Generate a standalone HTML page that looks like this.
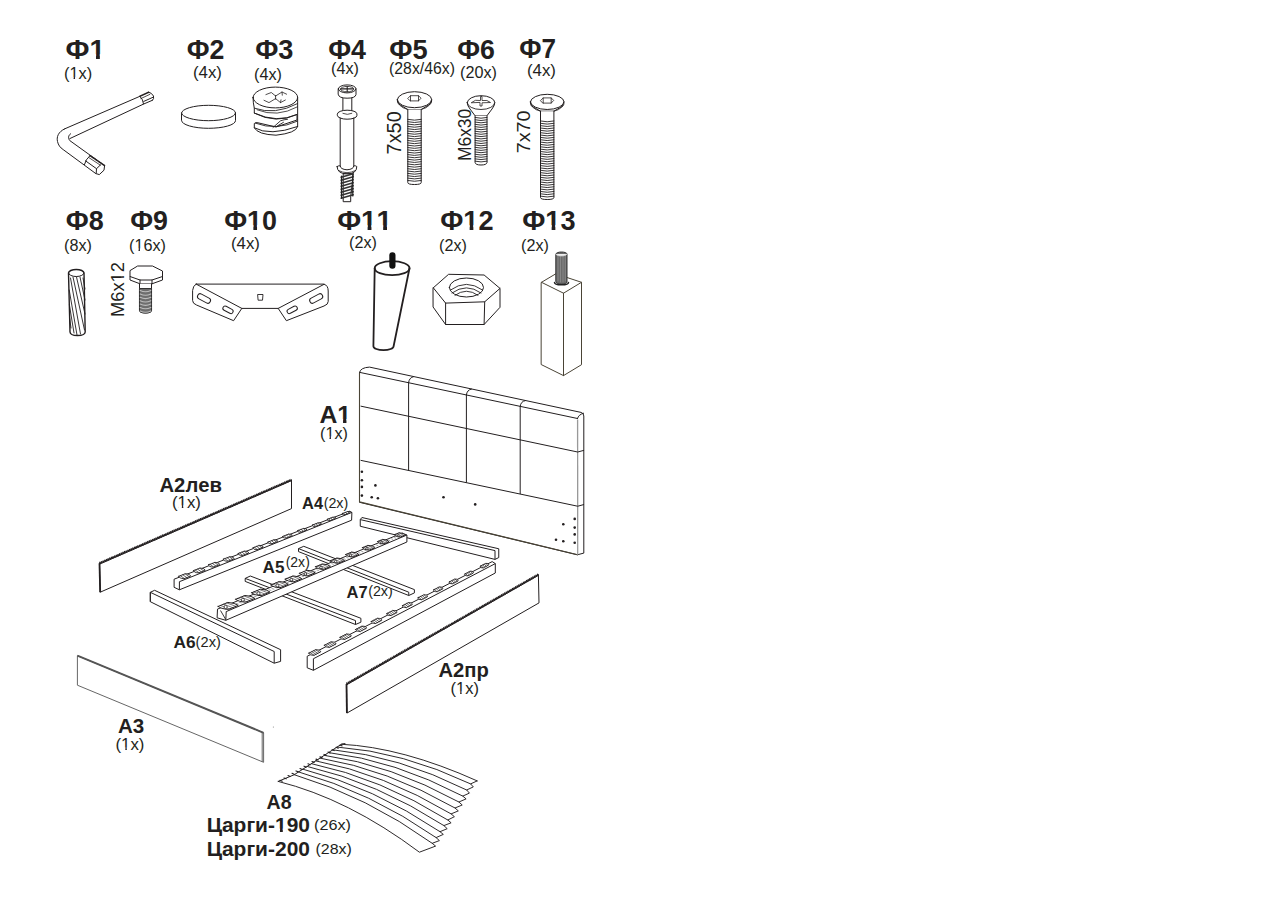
<!DOCTYPE html>
<html><head><meta charset="utf-8"><title>Комплектация</title>
<style>html,body{margin:0;padding:0;background:#fff;width:1280px;height:900px;overflow:hidden}
svg{display:block} text{font-family:"Liberation Sans",sans-serif;fill:#231f20;font-kerning:none}</style></head>
<body><svg width="1280" height="900" viewBox="0 0 1280 900">
<g><g transform="translate(65.46 58.86) scale(0.989 1)"><text font-size="28.4" font-weight="bold">Ф1</text><rect x="25.06" y="-4.70" width="5.81" height="6.20" fill="#fff"/><rect x="34.77" y="-4.70" width="5.45" height="6.20" fill="#fff"/></g><g transform="translate(186.70 58.86) scale(0.942 1)"><text font-size="28.4" font-weight="bold">Ф2</text></g><g transform="translate(255.19 58.72) scale(0.956 1)"><text font-size="28.4" font-weight="bold">Ф3</text></g><g transform="translate(328.20 58.86) scale(0.944 1)"><text font-size="28.4" font-weight="bold">Ф4</text></g><g transform="translate(389.18 58.72) scale(0.961 1)"><text font-size="28.4" font-weight="bold">Ф5</text></g><g transform="translate(457.20 58.72) scale(0.942 1)"><text font-size="28.4" font-weight="bold">Ф6</text></g><g transform="translate(519.22 57.86) scale(0.920 1)"><text font-size="28.4" font-weight="bold">Ф7</text></g><g transform="translate(65.69 229.72) scale(0.948 1)"><text font-size="28.4" font-weight="bold">Ф8</text></g><g transform="translate(130.20 229.72) scale(0.942 1)"><text font-size="28.4" font-weight="bold">Ф9</text></g><g transform="translate(224.19 229.72) scale(0.945 1)"><text font-size="28.4" font-weight="bold">Ф10</text><rect x="25.06" y="-4.70" width="5.81" height="6.20" fill="#fff"/><rect x="34.77" y="-4.70" width="5.45" height="6.20" fill="#fff"/></g><g transform="translate(337.16 229.86) scale(0.986 1)"><text font-size="28.4" font-weight="bold">Ф11</text><rect x="25.06" y="-4.70" width="5.81" height="6.20" fill="#fff"/><rect x="34.77" y="-4.70" width="5.45" height="6.20" fill="#fff"/><rect x="40.85" y="-4.70" width="5.81" height="6.20" fill="#fff"/><rect x="50.56" y="-4.70" width="5.45" height="6.20" fill="#fff"/></g><g transform="translate(440.19 229.86) scale(0.954 1)"><text font-size="28.4" font-weight="bold">Ф12</text><rect x="25.06" y="-4.70" width="5.81" height="6.20" fill="#fff"/><rect x="34.77" y="-4.70" width="5.45" height="6.20" fill="#fff"/></g><g transform="translate(522.19 229.72) scale(0.954 1)"><text font-size="28.4" font-weight="bold">Ф13</text><rect x="25.06" y="-4.70" width="5.81" height="6.20" fill="#fff"/><rect x="34.77" y="-4.70" width="5.45" height="6.20" fill="#fff"/></g><g transform="translate(64.02 79.34) scale(1.024 1)"><text font-size="16.0" font-weight="normal">(1x)</text><rect x="6.00" y="-2.21" width="3.35" height="3.71" fill="#fff"/><rect x="10.77" y="-2.21" width="3.23" height="3.71" fill="#fff"/></g><g transform="translate(192.99 77.64) scale(1.051 1)"><text font-size="16.0" font-weight="normal">(4x)</text></g><g transform="translate(254.03 79.64) scale(1.012 1)"><text font-size="16.0" font-weight="normal">(4x)</text></g><g transform="translate(331.03 73.64) scale(1.012 1)"><text font-size="16.0" font-weight="normal">(4x)</text></g><g transform="translate(389.05 73.64) scale(0.988 1)"><text font-size="16.0" font-weight="normal">(28x/46x)</text></g><g transform="translate(460.03 77.64) scale(1.013 1)"><text font-size="16.0" font-weight="normal">(20x)</text></g><g transform="translate(526.99 75.64) scale(1.051 1)"><text font-size="16.0" font-weight="normal">(4x)</text></g><g transform="translate(64.03 250.64) scale(1.012 1)"><text font-size="16.0" font-weight="normal">(8x)</text></g><g transform="translate(129.03 250.64) scale(1.013 1)"><text font-size="16.0" font-weight="normal">(16x)</text><rect x="6.00" y="-2.21" width="3.35" height="3.71" fill="#fff"/><rect x="10.77" y="-2.21" width="3.23" height="3.71" fill="#fff"/></g><g transform="translate(230.99 248.64) scale(1.051 1)"><text font-size="16.0" font-weight="normal">(4x)</text></g><g transform="translate(349.03 247.64) scale(1.012 1)"><text font-size="16.0" font-weight="normal">(2x)</text></g><g transform="translate(439.03 250.64) scale(1.012 1)"><text font-size="16.0" font-weight="normal">(2x)</text></g><g transform="translate(521.03 250.64) scale(1.012 1)"><text font-size="16.0" font-weight="normal">(2x)</text></g><g transform="translate(320.03 438.64) scale(1.012 1)"><text font-size="16.0" font-weight="normal">(1x)</text><rect x="6.00" y="-2.21" width="3.35" height="3.71" fill="#fff"/><rect x="10.77" y="-2.21" width="3.23" height="3.71" fill="#fff"/></g><g transform="translate(171.99 507.64) scale(1.051 1)"><text font-size="16.0" font-weight="normal">(1x)</text><rect x="6.00" y="-2.21" width="3.35" height="3.71" fill="#fff"/><rect x="10.77" y="-2.21" width="3.23" height="3.71" fill="#fff"/></g><g transform="translate(450.51 693.64) scale(1.032 1)"><text font-size="16.0" font-weight="normal">(1x)</text><rect x="6.00" y="-2.21" width="3.35" height="3.71" fill="#fff"/><rect x="10.77" y="-2.21" width="3.23" height="3.71" fill="#fff"/></g><g transform="translate(115.49 749.64) scale(1.051 1)"><text font-size="16.0" font-weight="normal">(1x)</text><rect x="6.00" y="-2.21" width="3.35" height="3.71" fill="#fff"/><rect x="10.77" y="-2.21" width="3.23" height="3.71" fill="#fff"/></g><g transform="translate(319.38 423.00) scale(1.032 1)"><text font-size="24.0" font-weight="bold">A1</text><rect x="18.02" y="-3.97" width="4.91" height="5.47" fill="#fff"/><rect x="26.23" y="-3.97" width="4.61" height="5.47" fill="#fff"/></g><g transform="translate(159.49 491.79) scale(0.965 1)"><text font-size="21.0" font-weight="bold">A2лев</text></g><g transform="translate(438.49 676.59) scale(0.962 1)"><text font-size="21.0" font-weight="bold">A2пр</text></g><g transform="translate(117.99 732.79) scale(0.980 1)"><text font-size="21.0" font-weight="bold">A3</text></g><g transform="translate(266.51 809.29) scale(0.933 1)"><text font-size="21.0" font-weight="bold">A8</text></g><g transform="translate(302.09 509.00) scale(0.976 1)"><text font-size="16.8" font-weight="bold">A4</text></g><g transform="translate(262.57 573.33) scale(1.020 1)"><text font-size="16.8" font-weight="bold">A5</text></g><g transform="translate(346.59 598.00) scale(0.984 1)"><text font-size="16.8" font-weight="bold">A7</text></g><g transform="translate(173.57 647.83) scale(1.029 1)"><text font-size="16.8" font-weight="bold">A6</text></g><g transform="translate(323.64 508.10) scale(1.038 1)"><text font-size="13.8" font-weight="normal">(2x)</text></g><g transform="translate(285.66 567.10) scale(1.016 1)"><text font-size="13.8" font-weight="normal">(2x)</text></g><g transform="translate(368.14 596.10) scale(1.038 1)"><text font-size="13.8" font-weight="normal">(2x)</text></g><g transform="translate(195.62 647.10) scale(1.061 1)"><text font-size="13.8" font-weight="normal">(2x)</text></g><g transform="translate(206.64 831.84) scale(1.059 1)"><text font-size="19.8" font-weight="bold">Царги-190</text><rect x="65.15" y="-3.28" width="4.05" height="4.78" fill="#fff"/><rect x="71.92" y="-3.28" width="3.80" height="4.78" fill="#fff"/></g><g transform="translate(206.64 855.84) scale(1.059 1)"><text font-size="19.8" font-weight="bold">Царги-200</text></g><g transform="translate(314.03 829.85) scale(1.080 1)"><text font-size="15.0" font-weight="normal">(26x)</text></g><g transform="translate(315.54 853.85) scale(1.065 1)"><text font-size="15.0" font-weight="normal">(28x)</text></g><g transform="translate(400.61 154.39) rotate(-90) scale(1.020 1)"><text font-size="19.5">7x50</text></g><g transform="translate(470.52 161.10) rotate(-90) scale(0.970 1)"><text font-size="18.0">M6x30</text></g><g transform="translate(529.81 153.29) rotate(-90) scale(1.040 1)"><text font-size="19.0">7x70</text></g><g transform="translate(123.82 316.96) rotate(-90) scale(1.000 1)"><text font-size="18.3">M6x12</text><rect x="35.34" y="-2.53" width="3.83" height="4.03" fill="#fff"/><rect x="40.79" y="-2.53" width="3.69" height="4.03" fill="#fff"/></g></g>
<g fill="none"><path d="M359.5,501.90 L359.5,372.6 Q360.5,367.6 369.5,367.1 L581,412.4 Q583.8,413.2 583.8,416 L583.8,553.1 L577.7,554.7 Z" fill="#fff" stroke="#231f20" stroke-width="1.0" stroke-linejoin="round" stroke-linecap="round" />
<path d="M577.7,554.7 L359.5,501.90 L359.5,372.6" fill="none" stroke="#4a4436" stroke-width="1.1" stroke-linejoin="round" stroke-linecap="round" />
<path d="M359.8,372.4 L577.5,418.50" fill="none" stroke="#231f20" stroke-width="1" stroke-linejoin="round" stroke-linecap="round" />
<line x1="577.60" y1="419.53" x2="577.70" y2="554.70" stroke="#999" stroke-width="1.3" />
<path d="M577.5,418.50 Q578.5,414.5 583.6,413.2" fill="none" stroke="#231f20" stroke-width="1" stroke-linejoin="round" stroke-linecap="round" />
<path d="M408.6,382.58 Q409.1,377.58 413.6,376.60" fill="none" stroke="#231f20" stroke-width="1" stroke-linejoin="round" stroke-linecap="round" />
<path d="M466.4,394.87 Q466.9,389.87 471.4,389.06" fill="none" stroke="#231f20" stroke-width="1" stroke-linejoin="round" stroke-linecap="round" />
<path d="M520.2,406.32 Q520.7,401.32 525.2,400.65" fill="none" stroke="#231f20" stroke-width="1" stroke-linejoin="round" stroke-linecap="round" />
<path d="M361,406.20 L577.7,452.03 L583.6,450.43" fill="none" stroke="#231f20" stroke-width="1" stroke-linejoin="round" stroke-linecap="round" />
<path d="M361,460.40 L577.7,506.23 L583.6,504.63" fill="none" stroke="#231f20" stroke-width="1" stroke-linejoin="round" stroke-linecap="round" />
<line x1="408.60" y1="382.58" x2="408.60" y2="470.47" stroke="#231f20" stroke-width="1" />
<line x1="466.40" y1="394.87" x2="466.40" y2="482.69" stroke="#231f20" stroke-width="1" />
<line x1="520.20" y1="406.32" x2="520.20" y2="494.07" stroke="#231f20" stroke-width="1" />
<circle cx="361.9" cy="471.7" r="1.3" fill="#231f20"/>
<circle cx="361.9" cy="480.3" r="1.3" fill="#231f20"/>
<circle cx="361.9" cy="486.9" r="1.3" fill="#231f20"/>
<circle cx="361.9" cy="495.6" r="1.3" fill="#231f20"/>
<circle cx="375.4" cy="485.4" r="1.3" fill="#231f20"/>
<circle cx="371.7" cy="497.3" r="1.3" fill="#231f20"/>
<circle cx="377.9" cy="498.3" r="1.3" fill="#231f20"/>
<circle cx="443.5" cy="497.3" r="1.3" fill="#231f20"/>
<circle cx="475.2" cy="504.4" r="1.3" fill="#231f20"/>
<circle cx="563.3" cy="524.3" r="1.3" fill="#231f20"/>
<circle cx="574.7" cy="518.9" r="1.3" fill="#231f20"/>
<circle cx="574.7" cy="527.6" r="1.3" fill="#231f20"/>
<circle cx="574.7" cy="534.4" r="1.3" fill="#231f20"/>
<circle cx="556" cy="539.7" r="1.3" fill="#231f20"/>
<circle cx="563.3" cy="541.3" r="1.3" fill="#231f20"/>
<circle cx="574.7" cy="542.7" r="1.3" fill="#231f20"/>
<polygon points="361.90,517.50 498.75,548.75 498.75,557.55 495.00,559.40 360.25,526.25 360.25,519.60" fill="#fff" stroke="#231f20" stroke-width="1" stroke-linejoin="round" />
<line x1="360.25" y1="519.60" x2="495.00" y2="550.60" stroke="#231f20" stroke-width="1" />
<line x1="495.00" y1="550.60" x2="495.00" y2="559.40" stroke="#231f20" stroke-width="1" />
<polygon points="303.75,546.30 414.40,589.60 414.40,592.90 408.75,595.50 298.50,551.60 298.50,548.60" fill="#fff" stroke="#231f20" stroke-width="1" stroke-linejoin="round" />
<line x1="298.50" y1="548.60" x2="408.75" y2="592.20" stroke="#231f20" stroke-width="1" />
<line x1="408.75" y1="592.20" x2="408.75" y2="595.50" stroke="#231f20" stroke-width="1" />
<polygon points="250.30,576.00 360.90,618.30 360.90,622.20 355.50,624.50 245.20,581.40 245.20,578.40" fill="#fff" stroke="#231f20" stroke-width="1" stroke-linejoin="round" />
<line x1="245.20" y1="578.40" x2="355.50" y2="620.60" stroke="#231f20" stroke-width="1" />
<line x1="355.50" y1="620.60" x2="355.50" y2="624.50" stroke="#231f20" stroke-width="1" />
<polygon points="174.10,579.20 349.70,511.25 351.90,512.40 351.60,520.20 179.40,589.80 174.10,587.30" fill="#fff" stroke="#231f20" stroke-width="1" stroke-linejoin="round" />
<line x1="179.40" y1="581.70" x2="351.90" y2="512.40" stroke="#231f20" stroke-width="1" />
<line x1="179.40" y1="581.70" x2="179.40" y2="589.80" stroke="#231f20" stroke-width="1" />
<path d="M178.79,576.26 L185.51,573.66 Q190.50,573.98 190.73,576.13 L184.01,578.73 Q179.03,578.42 178.79,576.26 Z" fill="#fff" stroke="#231f20" stroke-width="0.9" stroke-linejoin="round" stroke-linecap="round" />
<path d="M180.33,575.67 L184.43,578.56 M182.71,574.75 L186.81,577.64 M185.09,573.83 L189.19,576.72 " fill="none" stroke="#231f20" stroke-width="0.7" stroke-linejoin="round" stroke-linecap="round" />
<path d="M193.66,570.56 L200.26,568.01 Q205.12,568.26 205.22,570.36 L198.62,572.91 Q193.76,572.66 193.66,570.56 Z" fill="#fff" stroke="#231f20" stroke-width="0.9" stroke-linejoin="round" stroke-linecap="round" />
<path d="M195.17,569.98 L199.01,572.76 M197.52,569.07 L201.36,571.85 M199.87,568.16 L203.71,570.94 " fill="none" stroke="#231f20" stroke-width="0.7" stroke-linejoin="round" stroke-linecap="round" />
<path d="M208.52,564.87 L215.02,562.35 Q219.74,562.55 219.71,564.59 L213.22,567.10 Q208.49,566.90 208.52,564.87 Z" fill="#fff" stroke="#231f20" stroke-width="0.9" stroke-linejoin="round" stroke-linecap="round" />
<path d="M210.01,564.29 L213.58,566.96 M212.33,563.39 L215.91,566.06 M214.65,562.49 L218.23,565.16 " fill="none" stroke="#231f20" stroke-width="0.7" stroke-linejoin="round" stroke-linecap="round" />
<path d="M223.39,559.17 L229.77,556.70 Q234.36,556.84 234.20,558.82 L227.83,561.29 Q223.23,561.15 223.39,559.17 Z" fill="#fff" stroke="#231f20" stroke-width="0.9" stroke-linejoin="round" stroke-linecap="round" />
<path d="M224.85,558.60 L228.16,561.16 M227.14,557.72 L230.46,560.27 M229.43,556.83 L232.75,559.38 " fill="none" stroke="#231f20" stroke-width="0.7" stroke-linejoin="round" stroke-linecap="round" />
<path d="M238.26,553.47 L244.52,551.04 Q248.99,551.13 248.70,553.05 L242.43,555.48 Q237.96,555.39 238.26,553.47 Z" fill="#fff" stroke="#231f20" stroke-width="0.9" stroke-linejoin="round" stroke-linecap="round" />
<path d="M239.68,552.92 L242.74,555.36 M241.95,552.04 L245.00,554.48 M244.21,551.16 L247.27,553.60 " fill="none" stroke="#231f20" stroke-width="0.7" stroke-linejoin="round" stroke-linecap="round" />
<path d="M253.12,547.77 L259.28,545.39 Q263.61,545.42 263.19,547.28 L257.03,549.67 Q252.70,549.64 253.12,547.77 Z" fill="#fff" stroke="#231f20" stroke-width="0.9" stroke-linejoin="round" stroke-linecap="round" />
<path d="M254.52,547.23 L257.31,549.56 M256.76,546.36 L259.55,548.69 M259.00,545.50 L261.79,547.82 " fill="none" stroke="#231f20" stroke-width="0.7" stroke-linejoin="round" stroke-linecap="round" />
<path d="M267.99,542.07 L274.03,539.73 Q278.23,539.70 277.68,541.51 L271.64,543.85 Q267.43,543.88 267.99,542.07 Z" fill="#fff" stroke="#231f20" stroke-width="0.9" stroke-linejoin="round" stroke-linecap="round" />
<path d="M269.36,541.54 L271.89,543.76 M271.57,540.69 L274.10,542.90 M273.78,539.83 L276.31,542.05 " fill="none" stroke="#231f20" stroke-width="0.7" stroke-linejoin="round" stroke-linecap="round" />
<path d="M282.85,536.37 L288.78,534.08 Q292.86,533.99 292.17,535.75 L286.24,538.04 Q282.17,538.13 282.85,536.37 Z" fill="#fff" stroke="#231f20" stroke-width="0.9" stroke-linejoin="round" stroke-linecap="round" />
<path d="M284.19,535.85 L286.47,537.95 M286.38,535.01 L288.65,537.11 M288.56,534.16 L290.83,536.27 " fill="none" stroke="#231f20" stroke-width="0.7" stroke-linejoin="round" stroke-linecap="round" />
<path d="M297.72,530.67 L303.54,528.42 Q307.48,528.28 306.66,529.98 L300.85,532.23 Q296.90,532.37 297.72,530.67 Z" fill="#fff" stroke="#231f20" stroke-width="0.9" stroke-linejoin="round" stroke-linecap="round" />
<path d="M299.03,530.17 L301.04,532.15 M301.19,529.33 L303.20,531.32 M303.34,528.50 L305.35,530.49 " fill="none" stroke="#231f20" stroke-width="0.7" stroke-linejoin="round" stroke-linecap="round" />
<path d="M312.58,524.98 L318.29,522.77 Q322.10,522.57 321.16,524.21 L315.45,526.42 Q311.64,526.62 312.58,524.98 Z" fill="#fff" stroke="#231f20" stroke-width="0.9" stroke-linejoin="round" stroke-linecap="round" />
<path d="M313.87,524.48 L315.62,526.35 M316.00,523.65 L317.74,525.53 M318.12,522.83 L319.87,524.71 " fill="none" stroke="#231f20" stroke-width="0.7" stroke-linejoin="round" stroke-linecap="round" />
<path d="M327.45,519.28 L333.04,517.11 Q336.72,516.85 335.65,518.44 L330.05,520.60 Q326.37,520.86 327.45,519.28 Z" fill="#fff" stroke="#231f20" stroke-width="0.9" stroke-linejoin="round" stroke-linecap="round" />
<path d="M328.71,518.79 L330.19,520.55 M330.80,517.98 L332.29,519.74 M332.90,517.17 L334.39,518.93 " fill="none" stroke="#231f20" stroke-width="0.7" stroke-linejoin="round" stroke-linecap="round" />
<path d="M342.31,513.58 L347.80,511.46 Q351.35,511.14 350.14,512.67 L344.66,514.79 Q341.11,515.11 342.31,513.58 Z" fill="#fff" stroke="#231f20" stroke-width="0.9" stroke-linejoin="round" stroke-linecap="round" />
<path d="M343.54,513.10 L344.77,514.75 M345.61,512.30 L346.84,513.95 M347.68,511.50 L348.91,513.15 " fill="none" stroke="#231f20" stroke-width="0.7" stroke-linejoin="round" stroke-linecap="round" />
<polygon points="217.50,609.10 402.20,533.10 406.90,535.00 406.90,542.00 225.80,620.30 217.10,617.80" fill="#fff" stroke="#231f20" stroke-width="1" stroke-linejoin="round" />
<line x1="226.20" y1="611.60" x2="406.90" y2="535.00" stroke="#231f20" stroke-width="1" />
<line x1="226.20" y1="611.60" x2="225.80" y2="620.30" stroke="#231f20" stroke-width="1" />
<line x1="220.50" y1="610.50" x2="225.80" y2="619.60" stroke="#231f20" stroke-width="0.9" />
<path d="M224.21,608.45 L226.37,609.07 M227.20,607.21 L229.34,607.83 M230.19,605.97 L232.31,606.58 M233.17,604.72 L235.28,605.34 M236.16,603.48 L238.25,604.09 M239.15,602.24 L241.22,602.85 M242.14,601.00 L244.19,601.60 M245.13,599.76 L247.17,600.36 M248.11,598.51 L250.14,599.12 M251.10,597.27 L253.11,597.87 M254.09,596.03 L256.08,596.63 M257.08,594.79 L259.05,595.38 M260.06,593.54 L262.02,594.14 M263.05,592.30 L265.00,592.89 M266.04,591.06 L267.97,591.65 M269.03,589.82 L270.94,590.40 M272.02,588.58 L273.91,589.16 M275.00,587.33 L276.88,587.91 M277.99,586.09 L279.85,586.67 M280.98,584.85 L282.82,585.42 M283.97,583.61 L285.80,584.18 M286.95,582.36 L288.77,582.93 M289.94,581.12 L291.74,581.69 M292.93,579.88 L294.71,580.45 M295.92,578.64 L297.68,579.20 M298.91,577.40 L300.65,577.96 M301.89,576.15 L303.62,576.71 M304.88,574.91 L306.60,575.47 M307.87,573.67 L309.57,574.22 M310.86,572.43 L312.54,572.98 M313.84,571.18 L315.51,571.73 M316.83,569.94 L318.48,570.49 M319.82,568.70 L321.45,569.24 M322.81,567.46 L324.43,568.00 M325.80,566.22 L327.40,566.75 M328.78,564.97 L330.37,565.51 M331.77,563.73 L333.34,564.26 M334.76,562.49 L336.31,563.02 M337.75,561.25 L339.28,561.78 M340.73,560.00 L342.25,560.53 M343.72,558.76 L345.23,559.29 M346.71,557.52 L348.20,558.04 M349.70,556.28 L351.17,556.80 M352.69,555.04 L354.14,555.55 M355.67,553.79 L357.11,554.31 M358.66,552.55 L360.08,553.06 M361.65,551.31 L363.05,551.82 M364.64,550.07 L366.03,550.57 M367.62,548.82 L369.00,549.33 M370.61,547.58 L371.97,548.08 M373.60,546.34 L374.94,546.84 M376.59,545.10 L377.91,545.59 M379.58,543.86 L380.88,544.35 M382.56,542.61 L383.85,543.11 M385.55,541.37 L386.83,541.86 M388.54,540.13 L389.80,540.62 M391.53,538.89 L392.77,539.37 M394.52,537.64 L395.74,538.13 M397.50,536.40 L398.71,536.88 M400.49,535.16 L401.68,535.64 " fill="none" stroke="#666" stroke-width="0.6" stroke-linejoin="round" stroke-linecap="round" />
<path d="M218.12,606.43 L227.83,602.43 Q235.37,602.95 238.20,605.42 L228.49,609.42 Q220.95,608.89 218.12,606.43 Z" fill="#fff" stroke="#231f20" stroke-width="1.0" stroke-linejoin="round" stroke-linecap="round" />
<path d="M220.41,605.48 L229.67,608.93 M223.53,604.20 L232.79,607.65 M226.65,602.92 L235.91,606.36 " fill="none" stroke="#231f20" stroke-width="0.6" stroke-linejoin="round" stroke-linecap="round" />
<circle cx="225.65" cy="606.95" r="1.60" fill="#fff" stroke="#231f20" stroke-width="0.8"/>
<path d="M235.70,599.28 L244.95,595.47 Q252.27,595.96 254.87,598.39 L245.62,602.20 Q238.30,601.71 235.70,599.28 Z" fill="#fff" stroke="#231f20" stroke-width="1.0" stroke-linejoin="round" stroke-linecap="round" />
<path d="M237.87,598.38 L246.68,601.76 M240.88,597.15 L249.69,600.52 M243.89,595.91 L252.69,599.29 " fill="none" stroke="#231f20" stroke-width="0.6" stroke-linejoin="round" stroke-linecap="round" />
<circle cx="242.87" cy="599.82" r="1.54" fill="#fff" stroke="#231f20" stroke-width="0.8"/>
<path d="M251.67,592.78 L260.45,589.17 Q267.56,589.63 269.96,592.03 L261.17,595.64 Q254.06,595.18 251.67,592.78 Z" fill="#fff" stroke="#231f20" stroke-width="1.0" stroke-linejoin="round" stroke-linecap="round" />
<path d="M253.73,591.94 L262.12,595.25 M256.62,590.75 L265.01,594.06 M259.51,589.56 L267.90,592.87 " fill="none" stroke="#231f20" stroke-width="0.6" stroke-linejoin="round" stroke-linecap="round" />
<circle cx="258.49" cy="593.35" r="1.48" fill="#fff" stroke="#231f20" stroke-width="0.8"/>
<path d="M270.96,584.94 L279.29,581.51 Q286.15,581.93 288.30,584.30 L279.97,587.72 Q273.11,587.30 270.96,584.94 Z" fill="#fff" stroke="#231f20" stroke-width="1.0" stroke-linejoin="round" stroke-linecap="round" />
<path d="M272.91,584.14 L280.81,587.38 M275.68,583.00 L283.58,586.24 M278.45,581.85 L286.35,585.10 " fill="none" stroke="#231f20" stroke-width="0.6" stroke-linejoin="round" stroke-linecap="round" />
<circle cx="277.40" cy="585.53" r="1.42" fill="#fff" stroke="#231f20" stroke-width="0.8"/>
<path d="M285.22,579.14 L293.08,575.91 Q299.76,576.30 301.72,578.64 L293.86,581.87 Q287.18,581.48 285.22,579.14 Z" fill="#fff" stroke="#231f20" stroke-width="1.0" stroke-linejoin="round" stroke-linecap="round" />
<path d="M287.04,578.39 L294.57,581.58 M289.70,577.30 L297.23,580.48 M292.36,576.20 L299.89,579.39 " fill="none" stroke="#231f20" stroke-width="0.6" stroke-linejoin="round" stroke-linecap="round" />
<circle cx="291.33" cy="579.76" r="1.36" fill="#fff" stroke="#231f20" stroke-width="0.8"/>
<path d="M299.57,573.30 L306.97,570.26 Q313.46,570.63 315.24,572.93 L307.84,575.98 Q301.35,575.61 299.57,573.30 Z" fill="#fff" stroke="#231f20" stroke-width="1.0" stroke-linejoin="round" stroke-linecap="round" />
<path d="M301.28,572.60 L308.44,575.73 M303.82,571.55 L310.99,574.68 M306.37,570.51 L313.53,573.64 " fill="none" stroke="#231f20" stroke-width="0.6" stroke-linejoin="round" stroke-linecap="round" />
<circle cx="305.36" cy="573.95" r="1.30" fill="#fff" stroke="#231f20" stroke-width="0.8"/>
<path d="M315.54,566.81 L322.47,563.96 Q328.76,564.29 330.33,566.57 L323.40,569.42 Q317.11,569.09 315.54,566.81 Z" fill="#fff" stroke="#231f20" stroke-width="1.0" stroke-linejoin="round" stroke-linecap="round" />
<path d="M317.13,566.15 L323.88,569.22 M319.56,565.16 L326.31,568.23 M321.99,564.16 L328.74,567.23 " fill="none" stroke="#231f20" stroke-width="0.6" stroke-linejoin="round" stroke-linecap="round" />
<circle cx="320.98" cy="567.49" r="1.24" fill="#fff" stroke="#231f20" stroke-width="0.8"/>
<path d="M330.60,560.69 L337.07,558.02 Q343.16,558.33 344.54,560.58 L338.07,563.24 Q331.97,562.93 330.60,560.69 Z" fill="#fff" stroke="#231f20" stroke-width="1.0" stroke-linejoin="round" stroke-linecap="round" />
<path d="M332.08,560.08 L338.44,563.09 M334.39,559.13 L340.75,562.14 M336.70,558.18 L343.06,561.19 " fill="none" stroke="#231f20" stroke-width="0.6" stroke-linejoin="round" stroke-linecap="round" />
<circle cx="335.71" cy="561.39" r="1.18" fill="#fff" stroke="#231f20" stroke-width="0.8"/>
<path d="M345.76,554.52 L351.77,552.05 Q357.67,552.33 358.85,554.54 L352.84,557.02 Q346.94,556.74 345.76,554.52 Z" fill="#fff" stroke="#231f20" stroke-width="1.0" stroke-linejoin="round" stroke-linecap="round" />
<path d="M347.12,553.96 L353.09,556.91 M349.32,553.06 L355.29,556.01 M351.51,552.15 L357.49,555.11 " fill="none" stroke="#231f20" stroke-width="0.6" stroke-linejoin="round" stroke-linecap="round" />
<circle cx="350.54" cy="555.25" r="1.12" fill="#fff" stroke="#231f20" stroke-width="0.8"/>
<path d="M362.53,547.70 L368.08,545.42 Q373.76,545.66 374.73,547.85 L369.18,550.13 Q363.50,549.89 362.53,547.70 Z" fill="#fff" stroke="#231f20" stroke-width="1.0" stroke-linejoin="round" stroke-linecap="round" />
<path d="M363.78,547.19 L369.32,550.07 M365.86,546.33 L371.40,549.22 M367.94,545.47 L373.48,548.36 " fill="none" stroke="#231f20" stroke-width="0.6" stroke-linejoin="round" stroke-linecap="round" />
<circle cx="366.96" cy="548.46" r="1.06" fill="#fff" stroke="#231f20" stroke-width="0.8"/>
<path d="M377.69,541.54 L382.78,539.44 Q388.26,539.66 389.04,541.82 L383.95,543.91 Q378.46,543.69 377.69,541.54 Z" fill="#fff" stroke="#231f20" stroke-width="1.0" stroke-linejoin="round" stroke-linecap="round" />
<path d="M378.82,541.07 L383.97,543.90 M380.79,540.26 L385.94,543.09 M382.75,539.45 L387.90,542.28 " fill="none" stroke="#231f20" stroke-width="0.6" stroke-linejoin="round" stroke-linecap="round" />
<circle cx="381.78" cy="542.32" r="1.00" fill="#fff" stroke="#231f20" stroke-width="0.8"/>
<path d="M394.46,534.71 L399.09,532.81 Q404.36,533.00 404.92,535.12 L400.29,537.02 Q395.02,536.84 394.46,534.71 Z" fill="#fff" stroke="#231f20" stroke-width="1.0" stroke-linejoin="round" stroke-linecap="round" />
<path d="M395.48,534.30 L400.20,537.06 M397.33,533.53 L402.05,536.30 M399.18,532.77 L403.90,535.54 " fill="none" stroke="#231f20" stroke-width="0.6" stroke-linejoin="round" stroke-linecap="round" />
<circle cx="398.20" cy="535.52" r="0.94" fill="#fff" stroke="#231f20" stroke-width="0.8"/>
<polygon points="307.20,656.25 492.20,561.60 495.30,563.60 495.30,573.00 313.40,670.30 307.20,667.80" fill="#fff" stroke="#231f20" stroke-width="1" stroke-linejoin="round" />
<line x1="313.40" y1="658.75" x2="495.30" y2="563.60" stroke="#231f20" stroke-width="1" />
<line x1="313.40" y1="658.75" x2="313.40" y2="670.30" stroke="#231f20" stroke-width="1" />
<path d="M308.87,653.14 L315.55,649.72 Q320.44,649.62 320.78,651.84 L314.10,655.26 Q309.22,655.36 308.87,653.14 Z" fill="#fff" stroke="#231f20" stroke-width="0.9" stroke-linejoin="round" stroke-linecap="round" />
<path d="M309.94,652.59 L314.10,655.26 M311.81,651.63 L315.97,654.30 M313.68,650.68 L317.84,653.34 M315.55,649.72 L319.71,652.39 " fill="none" stroke="#231f20" stroke-width="0.7" stroke-linejoin="round" stroke-linecap="round" />
<path d="M324.48,645.22 L331.02,641.88 Q335.80,641.76 336.03,643.96 L329.49,647.31 Q324.71,647.43 324.48,645.22 Z" fill="#fff" stroke="#231f20" stroke-width="0.9" stroke-linejoin="round" stroke-linecap="round" />
<path d="M325.52,644.69 L329.46,647.32 M327.36,643.75 L331.30,646.38 M329.21,642.81 L333.15,645.43 M331.05,641.86 L334.99,644.49 " fill="none" stroke="#231f20" stroke-width="0.7" stroke-linejoin="round" stroke-linecap="round" />
<path d="M340.08,637.31 L346.49,634.03 Q351.16,633.89 351.28,636.08 L344.87,639.36 Q340.21,639.50 340.08,637.31 Z" fill="#fff" stroke="#231f20" stroke-width="0.9" stroke-linejoin="round" stroke-linecap="round" />
<path d="M341.10,636.79 L344.82,639.39 M342.91,635.86 L346.63,638.46 M344.73,634.93 L348.45,637.53 M346.55,634.00 L350.27,636.60 " fill="none" stroke="#231f20" stroke-width="0.7" stroke-linejoin="round" stroke-linecap="round" />
<path d="M355.69,629.40 L361.96,626.19 Q366.52,626.03 366.53,628.20 L360.25,631.41 Q355.70,631.56 355.69,629.40 Z" fill="#fff" stroke="#231f20" stroke-width="0.9" stroke-linejoin="round" stroke-linecap="round" />
<path d="M356.67,628.89 L360.17,631.45 M358.46,627.98 L361.96,630.53 M360.25,627.06 L363.75,629.62 M362.04,626.15 L365.54,628.70 " fill="none" stroke="#231f20" stroke-width="0.7" stroke-linejoin="round" stroke-linecap="round" />
<path d="M371.29,621.48 L377.43,618.34 Q381.88,618.17 381.78,620.32 L375.64,623.46 Q371.19,623.63 371.29,621.48 Z" fill="#fff" stroke="#231f20" stroke-width="0.9" stroke-linejoin="round" stroke-linecap="round" />
<path d="M372.25,620.99 L375.53,623.51 M374.01,620.09 L377.29,622.61 M375.78,619.19 L379.06,621.71 M377.54,618.29 L380.82,620.81 " fill="none" stroke="#231f20" stroke-width="0.7" stroke-linejoin="round" stroke-linecap="round" />
<path d="M386.89,613.57 L392.90,610.50 Q397.24,610.30 397.03,612.44 L391.02,615.51 Q386.69,615.70 386.89,613.57 Z" fill="#fff" stroke="#231f20" stroke-width="0.9" stroke-linejoin="round" stroke-linecap="round" />
<path d="M387.83,613.09 L390.89,615.58 M389.56,612.20 L392.62,614.69 M391.30,611.32 L394.36,613.80 M393.04,610.43 L396.09,612.91 " fill="none" stroke="#231f20" stroke-width="0.7" stroke-linejoin="round" stroke-linecap="round" />
<path d="M402.50,605.66 L408.37,602.65 Q412.60,602.44 412.28,604.56 L406.40,607.56 Q402.18,607.77 402.50,605.66 Z" fill="#fff" stroke="#231f20" stroke-width="0.9" stroke-linejoin="round" stroke-linecap="round" />
<path d="M403.41,605.19 L406.24,607.64 M405.11,604.32 L407.95,606.77 M406.82,603.44 L409.66,605.89 M408.53,602.57 L411.37,605.02 " fill="none" stroke="#231f20" stroke-width="0.7" stroke-linejoin="round" stroke-linecap="round" />
<path d="M418.10,597.74 L423.84,594.81 Q427.96,594.58 427.53,596.68 L421.79,599.61 Q417.67,599.84 418.10,597.74 Z" fill="#fff" stroke="#231f20" stroke-width="0.9" stroke-linejoin="round" stroke-linecap="round" />
<path d="M418.98,597.29 L421.60,599.71 M420.67,596.43 L423.28,598.85 M422.35,595.57 L424.96,597.99 M424.03,594.71 L426.65,597.13 " fill="none" stroke="#231f20" stroke-width="0.7" stroke-linejoin="round" stroke-linecap="round" />
<path d="M433.71,589.83 L439.31,586.96 Q443.32,586.72 442.78,588.79 L437.17,591.66 Q433.17,591.91 433.71,589.83 Z" fill="#fff" stroke="#231f20" stroke-width="0.9" stroke-linejoin="round" stroke-linecap="round" />
<path d="M434.56,589.39 L436.96,591.77 M436.22,588.55 L438.61,590.93 M437.87,587.70 L440.27,590.08 M439.53,586.85 L441.92,589.23 " fill="none" stroke="#231f20" stroke-width="0.7" stroke-linejoin="round" stroke-linecap="round" />
<path d="M449.31,581.92 L454.78,579.12 Q458.68,578.85 458.03,580.91 L452.55,583.71 Q448.66,583.98 449.31,581.92 Z" fill="#fff" stroke="#231f20" stroke-width="0.9" stroke-linejoin="round" stroke-linecap="round" />
<path d="M450.14,581.49 L452.31,583.84 M451.77,580.66 L453.94,583.00 M453.40,579.83 L455.57,582.17 M455.02,578.99 L457.20,581.34 " fill="none" stroke="#231f20" stroke-width="0.7" stroke-linejoin="round" stroke-linecap="round" />
<path d="M464.91,574.00 L470.25,571.27 Q474.04,570.99 473.28,573.03 L467.94,575.77 Q464.15,576.05 464.91,574.00 Z" fill="#fff" stroke="#231f20" stroke-width="0.9" stroke-linejoin="round" stroke-linecap="round" />
<path d="M465.71,573.59 L467.67,575.90 M467.32,572.77 L469.27,575.08 M468.92,571.95 L470.87,574.26 M470.52,571.13 L472.48,573.44 " fill="none" stroke="#231f20" stroke-width="0.7" stroke-linejoin="round" stroke-linecap="round" />
<path d="M480.52,566.09 L485.72,563.43 Q489.40,563.13 488.53,565.15 L483.32,567.82 Q479.65,568.12 480.52,566.09 Z" fill="#fff" stroke="#231f20" stroke-width="0.9" stroke-linejoin="round" stroke-linecap="round" />
<path d="M481.29,565.69 L483.02,567.97 M482.87,564.89 L484.60,567.16 M484.44,564.08 L486.18,566.35 M486.02,563.28 L487.75,565.55 " fill="none" stroke="#231f20" stroke-width="0.7" stroke-linejoin="round" stroke-linecap="round" />
<polygon points="154.60,590.30 280.60,649.70 280.60,661.40 274.20,663.20 150.30,601.70 150.30,592.30" fill="#fff" stroke="#231f20" stroke-width="1" stroke-linejoin="round" />
<line x1="150.30" y1="592.30" x2="274.20" y2="651.50" stroke="#231f20" stroke-width="1" />
<line x1="274.20" y1="651.50" x2="274.20" y2="663.20" stroke="#231f20" stroke-width="1" />
<line x1="150.30" y1="592.30" x2="150.30" y2="601.70" stroke="#231f20" stroke-width="1" />
<polygon points="99.50,563.20 291.50,479.80 291.50,508.60 100.20,592.20" fill="#fff" stroke="#231f20" stroke-width="1" stroke-linejoin="round" />
<line x1="99.50" y1="563.20" x2="291.50" y2="479.80" stroke="#231f20" stroke-width="2.4" stroke-dasharray="1.2 0.6"/>
<line x1="99.80" y1="564.00" x2="291.50" y2="480.60" stroke="#231f20" stroke-width="1" />
<line x1="99.50" y1="563.20" x2="100.20" y2="592.20" stroke="#231f20" stroke-width="1.8" />
<polygon points="346.50,683.90 538.40,574.50 539.00,602.90 346.90,713.10" fill="#fff" stroke="#231f20" stroke-width="1" stroke-linejoin="round" />
<line x1="346.50" y1="683.90" x2="538.40" y2="574.50" stroke="#231f20" stroke-width="2.4" stroke-dasharray="1.2 0.6"/>
<line x1="346.80" y1="684.70" x2="538.40" y2="575.30" stroke="#231f20" stroke-width="1" />
<line x1="346.50" y1="683.90" x2="346.90" y2="713.10" stroke="#231f20" stroke-width="1.8" />
<polygon points="77.40,655.70 263.60,732.80 263.60,762.30 77.40,685.20" fill="#fff" stroke="#666" stroke-width="1" stroke-linejoin="round" />
<line x1="77.40" y1="655.70" x2="263.60" y2="732.80" stroke="#555" stroke-width="1.9" />
<line x1="262.20" y1="733.00" x2="262.20" y2="762.00" stroke="#666" stroke-width="1" />
<circle cx="273.4" cy="727" r="0.6" fill="#888"/>
<path d="M278.20,781.40 Q348.40,798.95 419.40,852.20 L435.60,846.10 L432.20,843.30 M294.30,774.70 Q367.37,796.62 432.20,843.30 L439.40,840.60 L436.10,837.60 M298.58,771.93 Q370.25,791.80 436.10,837.60 L443.30,834.40 L440.00,831.70 M302.86,769.16 Q373.64,787.18 440.00,831.70 L447.20,828.70 L443.90,825.60 M307.15,766.40 Q377.56,782.72 443.90,825.60 L451.10,822.80 L447.80,820.00 M311.43,763.63 Q380.30,778.03 447.80,820.00 L454.40,816.70 L451.10,813.90 M315.71,760.86 Q383.42,773.48 451.10,813.90 L458.30,810.90 L455.00,808.00 M319.99,758.09 Q387.00,769.06 455.00,808.00 L462.20,805.00 L458.90,802.00 M324.27,755.32 Q390.87,764.71 458.90,802.00 L466.10,798.90 L462.80,796.10 M328.55,752.55 Q394.53,760.35 462.80,796.10 L469.40,793.10 L466.70,790.00 M332.84,749.79 Q398.73,756.08 466.70,790.00 L473.30,786.90 L470.60,783.90 M337.12,747.02 Q402.97,751.81 470.60,783.90 L477.20,780.90 L477.20,780.90 M341.40,744.25 Q402.55,747.31 477.20,780.90 " fill="none" stroke="#231f20" stroke-width="0.95" stroke-linejoin="round" stroke-linecap="round" />
<path d="M278.2,781.4 L294.3,774.7 L341.4,744.25 Q343,743.5 345,743.6" fill="none" stroke="#231f20" stroke-width="1.0" stroke-linejoin="round" stroke-linecap="round" />
<path d="M280.00,780.30 l2.2,0.9 M284.00,777.95 l2.2,0.9 M288.00,775.59 l2.2,0.9 M292.00,773.24 l2.2,0.9 M296.00,770.89 l2.2,0.9 M300.00,768.53 l2.2,0.9 M304.00,766.18 l2.2,0.9 M308.00,763.83 l2.2,0.9 M312.00,761.47 l2.2,0.9 M316.00,759.12 l2.2,0.9 M320.00,756.77 l2.2,0.9 M324.00,754.41 l2.2,0.9 M328.00,752.06 l2.2,0.9 M332.00,749.71 l2.2,0.9 M336.00,747.35 l2.2,0.9 M340.00,745.00 l2.2,0.9 " fill="none" stroke="#231f20" stroke-width="1.1" stroke-linejoin="round" stroke-linecap="round" />
<path d="M64.8,128.8 L139.9,96.3" fill="none" stroke="#231f20" stroke-width="1" stroke-linejoin="round" stroke-linecap="round" />
<path d="M69.8,138.6 L143.5,104.1" fill="none" stroke="#231f20" stroke-width="1" stroke-linejoin="round" stroke-linecap="round" />
<path d="M64.8,128.8 C58,132 56.5,137 57.5,141.5 C58.3,145 60,147.5 63.2,149.6 L95.9,173.65" fill="none" stroke="#231f20" stroke-width="1" stroke-linejoin="round" stroke-linecap="round" />
<path d="M70.5,133.8 C68.3,135.5 67.8,138 69.8,140.6 L104.6,165.6" fill="none" stroke="#231f20" stroke-width="1" stroke-linejoin="round" stroke-linecap="round" />
<path d="M139.9,96.3 L148.7,92.2" fill="none" stroke="#231f20" stroke-width="1.5" stroke-linejoin="round" stroke-linecap="round" stroke-dasharray="1 0.5"/>
<path d="M140.8,98.6 L149.8,94.4" fill="none" stroke="#231f20" stroke-width="0.8" stroke-linejoin="round" stroke-linecap="round" />
<path d="M139.9,96.3 Q143.3,99.5 143.5,104.1 L152.6,100.2 M143.8,101.4 L153.6,97 M148.7,92.2 Q151.5,92.5 153.5,96 Q154.2,99 152.6,100.2" fill="none" stroke="#231f20" stroke-width="1" stroke-linejoin="round" stroke-linecap="round" />
<path d="M90,155.6 L104.6,165.6" fill="none" stroke="#231f20" stroke-width="1.5" stroke-linejoin="round" stroke-linecap="round" stroke-dasharray="1 0.5"/>
<path d="M89.2,157.8 L100.4,165.2" fill="none" stroke="#231f20" stroke-width="0.8" stroke-linejoin="round" stroke-linecap="round" />
<path d="M90,155.6 Q85.5,159.5 84.4,164.6 M85.6,160.9 L96.5,168.7 L96.2,173.65 L99.3,174.6 L104,170.2 L104.6,165.6 M96.5,168.7 L100.5,164.9" fill="none" stroke="#231f20" stroke-width="1" stroke-linejoin="round" stroke-linecap="round" />
<path d="M181.5,113 A27,7.7 0 0 1 235.5,113 L235.5,120.6 A27,7.7 0 0 1 181.5,120.6 Z" fill="#fff" stroke="#231f20" stroke-width="1" stroke-linejoin="round" stroke-linecap="round" />
<path d="M181.5,113 A27,7.7 0 0 0 235.5,113" fill="none" stroke="#231f20" stroke-width="1" stroke-linejoin="round" stroke-linecap="round" />
<path d="M253.05,97.5 A22.3,10.4 0 0 1 297.65,97.5 L297.65,126.5 Q296,133 276,135.2 Q258,134.5 254.3,127.8 L254.3,123.5 Q256,122 258,122.8 L276,127 L297,120 L297,114.5 Q277,123.5 254.3,113.1 L254.3,108.2 Q253.05,103 253.05,97.5 Z" fill="#fff" stroke="#231f20" stroke-width="1" stroke-linejoin="round" stroke-linecap="round" />
<path d="M253.05,97.5 A22.3,10.4 0 0 0 297.65,97.5" fill="none" stroke="#231f20" stroke-width="1" stroke-linejoin="round" stroke-linecap="round" />
<path d="M254.3,108.2 Q275,115.5 297.5,103.6" fill="none" stroke="#231f20" stroke-width="0.9" stroke-linejoin="round" stroke-linecap="round" />
<path d="M257,109.8 Q277,118 297.5,106.8" fill="none" stroke="#231f20" stroke-width="0.8" stroke-linejoin="round" stroke-linecap="round" />
<path d="M254.3,113.1 Q276,124.5 297,114.5" fill="none" stroke="#231f20" stroke-width="1" stroke-linejoin="round" stroke-linecap="round" />
<path d="M255.5,123.2 Q276,131 297.3,121.2" fill="none" stroke="#231f20" stroke-width="0.9" stroke-linejoin="round" stroke-linecap="round" />
<path d="M254.3,127.8 Q270,136.5 297.6,126.5" fill="none" stroke="#231f20" stroke-width="1" stroke-linejoin="round" stroke-linecap="round" />
<path d="M273,127.5 L280.5,120.8 Q284,119.5 287.5,119.3 M276.5,126.5 L283.5,122.3" fill="none" stroke="#231f20" stroke-width="0.9" stroke-linejoin="round" stroke-linecap="round" />
<path d="M264,100.3 L269,102.6 L275.6,98.6 M265.9,94.6 L271.3,92.5 L275.6,96 M286.6,94.2 L282,92 L275.6,96 M285.4,100 L280.5,102.6 L275.6,98.6 M275.6,95.5 L275.6,99.2 M282,92 L282.3,95.2 M280.5,102.6 L281,99.8" fill="none" stroke="#231f20" stroke-width="0.8" stroke-linejoin="round" stroke-linecap="round" />
<path d="M338.2,88.9 A8.9,4 0 0 1 356,88.9 L356,94.5 Q355.5,98.2 347.1,98.2 Q338.7,98.2 338.2,94.5 Z" fill="#fff" stroke="#231f20" stroke-width="1" stroke-linejoin="round" stroke-linecap="round" />
<path d="M338.2,88.9 A8.9,4 0 0 0 356,88.9" fill="none" stroke="#231f20" stroke-width="1" stroke-linejoin="round" stroke-linecap="round" />
<path d="M340.4,89.1 A6.7,2.7 0 0 1 353.8,89.1 A6.7,2.7 0 0 1 340.4,89.1 Z" fill="none" stroke="#231f20" stroke-width="0.8" stroke-linejoin="round" stroke-linecap="round" />
<path d="M341,88.9 L353.2,88.9 M347.2,86.5 L347.2,91.8" fill="none" stroke="#231f20" stroke-width="1.1" stroke-linejoin="round" stroke-linecap="round" />
<path d="M342.9,98.2 L342.9,112 M351.8,98.2 L351.8,112" fill="none" stroke="#231f20" stroke-width="1" stroke-linejoin="round" stroke-linecap="round" />
<path d="M337.3,113.8 A9.8,3.6 0 0 1 356.9,113.8 L356.9,115.6 A9.8,3.6 0 0 1 337.3,115.6 Z" fill="#fff" stroke="#231f20" stroke-width="1" stroke-linejoin="round" stroke-linecap="round" />
<path d="M342.9,113.4 Q347.3,115.5 351.8,113.4" fill="none" stroke="#231f20" stroke-width="0.8" stroke-linejoin="round" stroke-linecap="round" />
<path d="M340.2,118 L340.2,166.5 M353.8,118 L353.8,166.5" fill="none" stroke="#231f20" stroke-width="1" stroke-linejoin="round" stroke-linecap="round" />
<path d="M337.1,166.5 Q337.1,173.9 347,173.9 Q356.8,173.9 356.8,166.5 Q356,165.6 353.8,165.8 Q353.6,169.3 347,169.8 Q340.4,169.3 340.2,165.8 Q338,165.6 337.1,166.5 Z" fill="#fff" stroke="#231f20" stroke-width="1" stroke-linejoin="round" stroke-linecap="round" />
<path d="M338.5,170.5 Q347,175 355.5,170.5" fill="none" stroke="#231f20" stroke-width="0.8" stroke-linejoin="round" stroke-linecap="round" />
<path d="M343.2,174.2 L343.2,201.7 L350.7,201.7 L350.7,197 L353.2,174.2 Z" fill="#fff" stroke="#231f20" stroke-width="1" stroke-linejoin="round" stroke-linecap="round" />
<path d="M341.2,177.20 L353.2,173.80 M341.2,180.20 L353.2,176.80 M341.2,183.20 L353.2,179.80 M341.2,186.20 L353.2,182.80 M341.2,189.20 L353.2,185.80 M341.2,192.20 L353.2,188.80 M341.2,195.20 L353.2,191.80 M341.2,198.20 L353.2,194.80 " fill="none" stroke="#333" stroke-width="1.5" stroke-linejoin="round" stroke-linecap="round" />
<path d="M341.5,176 L341.5,198 M352.8,174.5 L352.8,196" fill="none" stroke="#222" stroke-width="1.2" stroke-linejoin="round" stroke-linecap="round" />
<path d="M397.30,99.70 A17.2,8 0 0 1 431.70,99.70 Q431.7,102.7 430.70,103.7 L421.20,109.60 L407.80,109.60 L398.30,103.7 Q397.3,102.7 397.30,99.70 Z" fill="#fff" stroke="#231f20" stroke-width="1" stroke-linejoin="round" stroke-linecap="round" />
<path d="M397.30,99.70 A17.2,8 0 0 0 431.70,99.70" fill="none" stroke="#231f20" stroke-width="1" stroke-linejoin="round" stroke-linecap="round" />
<path d="M398.30,102.20 A16.2,8 0 0 0 430.70,102.20" fill="none" stroke="#231f20" stroke-width="0.8" stroke-linejoin="round" stroke-linecap="round" />
<path d="M408.00,98.20 L410.50,95.70 L418.50,95.70 L421.00,98.20 L418.50,100.90 L410.50,100.90 Z M410.50,95.70 L410.50,100.90 M418.50,95.70 L418.50,100.90" fill="none" stroke="#231f20" stroke-width="0.8" stroke-linejoin="round" stroke-linecap="round" />
<path d="M407.80,109.60 L407.80,182.50 Q407.8,184.5 414.50,184.50 Q421.2,184.5 421.20,182.50 L421.20,109.60" fill="#fff" stroke="#231f20" stroke-width="1" stroke-linejoin="round" stroke-linecap="round" />
<path d="M407.80,119.40 Q414.5,121.00 421.20,119.40 M407.80,121.75 Q414.5,123.35 421.20,121.75 M407.80,124.10 Q414.5,125.70 421.20,124.10 M407.80,126.45 Q414.5,128.05 421.20,126.45 M407.80,128.80 Q414.5,130.40 421.20,128.80 M407.80,131.15 Q414.5,132.75 421.20,131.15 M407.80,133.50 Q414.5,135.10 421.20,133.50 M407.80,135.85 Q414.5,137.45 421.20,135.85 M407.80,138.20 Q414.5,139.80 421.20,138.20 M407.80,140.55 Q414.5,142.15 421.20,140.55 M407.80,142.90 Q414.5,144.50 421.20,142.90 M407.80,145.25 Q414.5,146.85 421.20,145.25 M407.80,147.60 Q414.5,149.20 421.20,147.60 M407.80,149.95 Q414.5,151.55 421.20,149.95 M407.80,152.30 Q414.5,153.90 421.20,152.30 M407.80,154.65 Q414.5,156.25 421.20,154.65 M407.80,157.00 Q414.5,158.60 421.20,157.00 M407.80,159.35 Q414.5,160.95 421.20,159.35 M407.80,161.70 Q414.5,163.30 421.20,161.70 M407.80,164.05 Q414.5,165.65 421.20,164.05 M407.80,166.40 Q414.5,168.00 421.20,166.40 M407.80,168.75 Q414.5,170.35 421.20,168.75 M407.80,171.10 Q414.5,172.70 421.20,171.10 M407.80,173.45 Q414.5,175.05 421.20,173.45 M407.80,175.80 Q414.5,177.40 421.20,175.80 M407.80,178.15 Q414.5,179.75 421.20,178.15 M407.80,180.50 Q414.5,182.10 421.20,180.50 " fill="none" stroke="#231f20" stroke-width="0.9" stroke-linejoin="round" stroke-linecap="round" />
<path d="M530.40,101.90 A16.8,7.6 0 0 1 564.00,101.90 Q564.0,104.89999999999999 563.00,105.89999999999999 L553.90,111.20 L540.50,111.20 L531.40,105.89999999999999 Q530.4000000000001,104.89999999999999 530.40,101.90 Z" fill="#fff" stroke="#231f20" stroke-width="1" stroke-linejoin="round" stroke-linecap="round" />
<path d="M530.40,101.90 A16.8,7.6 0 0 0 564.00,101.90" fill="none" stroke="#231f20" stroke-width="1" stroke-linejoin="round" stroke-linecap="round" />
<path d="M531.40,104.40 A15.8,7.6 0 0 0 563.00,104.40" fill="none" stroke="#231f20" stroke-width="0.8" stroke-linejoin="round" stroke-linecap="round" />
<path d="M540.70,100.40 L543.20,97.90 L551.20,97.90 L553.70,100.40 L551.20,103.10 L543.20,103.10 Z M543.20,97.90 L543.20,103.10 M551.20,97.90 L551.20,103.10" fill="none" stroke="#231f20" stroke-width="0.8" stroke-linejoin="round" stroke-linecap="round" />
<path d="M540.50,111.20 L540.50,197.50 Q540.5,199.5 547.20,199.50 Q553.9000000000001,199.5 553.90,197.50 L553.90,111.20" fill="#fff" stroke="#231f20" stroke-width="1" stroke-linejoin="round" stroke-linecap="round" />
<path d="M540.50,121.00 Q547.2,122.60 553.90,121.00 M540.50,123.35 Q547.2,124.95 553.90,123.35 M540.50,125.70 Q547.2,127.30 553.90,125.70 M540.50,128.05 Q547.2,129.65 553.90,128.05 M540.50,130.40 Q547.2,132.00 553.90,130.40 M540.50,132.75 Q547.2,134.35 553.90,132.75 M540.50,135.10 Q547.2,136.70 553.90,135.10 M540.50,137.45 Q547.2,139.05 553.90,137.45 M540.50,139.80 Q547.2,141.40 553.90,139.80 M540.50,142.15 Q547.2,143.75 553.90,142.15 M540.50,144.50 Q547.2,146.10 553.90,144.50 M540.50,146.85 Q547.2,148.45 553.90,146.85 M540.50,149.20 Q547.2,150.80 553.90,149.20 M540.50,151.55 Q547.2,153.15 553.90,151.55 M540.50,153.90 Q547.2,155.50 553.90,153.90 M540.50,156.25 Q547.2,157.85 553.90,156.25 M540.50,158.60 Q547.2,160.20 553.90,158.60 M540.50,160.95 Q547.2,162.55 553.90,160.95 M540.50,163.30 Q547.2,164.90 553.90,163.30 M540.50,165.65 Q547.2,167.25 553.90,165.65 M540.50,168.00 Q547.2,169.60 553.90,168.00 M540.50,170.35 Q547.2,171.95 553.90,170.35 M540.50,172.70 Q547.2,174.30 553.90,172.70 M540.50,175.05 Q547.2,176.65 553.90,175.05 M540.50,177.40 Q547.2,179.00 553.90,177.40 M540.50,179.75 Q547.2,181.35 553.90,179.75 M540.50,182.10 Q547.2,183.70 553.90,182.10 M540.50,184.45 Q547.2,186.05 553.90,184.45 M540.50,186.80 Q547.2,188.40 553.90,186.80 M540.50,189.15 Q547.2,190.75 553.90,189.15 M540.50,191.50 Q547.2,193.10 553.90,191.50 M540.50,193.85 Q547.2,195.45 553.90,193.85 M540.50,196.20 Q547.2,197.80 553.90,196.20 " fill="none" stroke="#231f20" stroke-width="0.9" stroke-linejoin="round" stroke-linecap="round" />
<path d="M467.2,102.7 A13.8,7 0 0 1 494.8,102.7 Q494.5,106 492,109 L486.9,115.8 L475.1,115.8 L470,109 Q467.4,106 467.2,102.7 Z" fill="#fff" stroke="#231f20" stroke-width="1" stroke-linejoin="round" stroke-linecap="round" />
<path d="M467.2,102.7 A13.8,6.8 0 0 0 494.8,102.7" fill="none" stroke="#231f20" stroke-width="0.9" stroke-linejoin="round" stroke-linecap="round" />
<path d="M471.5,102.5 Q475,99 480.5,100.5 L480.5,96.5 L482,96.5 L482,100.5 Q487.5,99.5 490.5,102.5 L482,102.8 L482,106 L480,106 L480,102.8 Z" fill="none" stroke="#231f20" stroke-width="0.8" stroke-linejoin="round" stroke-linecap="round" />
<path d="M475.1,115.8 L475.1,162.5 Q475.5,165 481,165 Q486.5,165 487,162.5 L487,115.8" fill="#fff" stroke="#231f20" stroke-width="1" stroke-linejoin="round" stroke-linecap="round" />
<path d="M475.1,117.50 Q481,119.00 487,117.50 M475.1,119.80 Q481,121.30 487,119.80 M475.1,122.10 Q481,123.60 487,122.10 M475.1,124.40 Q481,125.90 487,124.40 M475.1,126.70 Q481,128.20 487,126.70 M475.1,129.00 Q481,130.50 487,129.00 M475.1,131.30 Q481,132.80 487,131.30 M475.1,133.60 Q481,135.10 487,133.60 M475.1,135.90 Q481,137.40 487,135.90 M475.1,138.20 Q481,139.70 487,138.20 M475.1,140.50 Q481,142.00 487,140.50 M475.1,142.80 Q481,144.30 487,142.80 M475.1,145.10 Q481,146.60 487,145.10 M475.1,147.40 Q481,148.90 487,147.40 M475.1,149.70 Q481,151.20 487,149.70 M475.1,152.00 Q481,153.50 487,152.00 M475.1,154.30 Q481,155.80 487,154.30 M475.1,156.60 Q481,158.10 487,156.60 M475.1,158.90 Q481,160.40 487,158.90 M475.1,161.20 Q481,162.70 487,161.20 " fill="none" stroke="#231f20" stroke-width="0.9" stroke-linejoin="round" stroke-linecap="round" />
<path d="M68.5,273 A7.7,3.5 0 0 1 84,273 L85.2,332 Q85,335.5 77.5,335.5 Q70.2,335.5 70,332 Z" fill="#fff" stroke="#231f20" stroke-width="1.4" stroke-linejoin="round" stroke-linecap="round" />
<path d="M68.5,273 A7.7,3.5 0 0 0 84,273" fill="none" stroke="#231f20" stroke-width="1" stroke-linejoin="round" stroke-linecap="round" />
<path d="M70.5,278 L80.5,334 M73,277 L84.5,330 M76.5,277 L85,314 M80,277 L85,300 M83,278 L85,289 M69.2,290 L77,335 M69.4,305 L74,333 M69.6,318 L71,328" fill="none" stroke="#231f20" stroke-width="0.9" stroke-linejoin="round" stroke-linecap="round" />
<path d="M138,266 L152.5,266 L162.5,271 L162.5,276.5 L152,280 L140,280 L130,276.5 L130,271 Z" fill="#fff" stroke="#231f20" stroke-width="1" stroke-linejoin="round" stroke-linecap="round" />
<path d="M130,276.5 L130,280 L140,283.8 L152,283.8 L162.5,280 L162.5,276.5 M140,280 L140,283.8 M152,280 L152,283.8" fill="none" stroke="#231f20" stroke-width="1" stroke-linejoin="round" stroke-linecap="round" />
<path d="M139.5,283.8 L139.5,310.5 Q140,313 145.5,313 Q151,313 151.5,310.5 L151.5,283.8" fill="#fff" stroke="#231f20" stroke-width="1" stroke-linejoin="round" stroke-linecap="round" />
<path d="M139.5,288.5 L139.5,310.5 Q140,313 145.5,313 Q151,313 151.5,310.5 L151.5,288.5 Z" fill="#6e6e6e" stroke="#333" stroke-width="1.1" stroke-linejoin="round" stroke-linecap="round" />
<path d="M140.2,290.50 Q145.5,293.10 150.8,290.50 M140.2,293.90 Q145.5,296.50 150.8,293.90 M140.2,297.30 Q145.5,299.90 150.8,297.30 M140.2,300.70 Q145.5,303.30 150.8,300.70 M140.2,304.10 Q145.5,306.70 150.8,304.10 M140.2,307.50 Q145.5,310.10 150.8,307.50 M140.2,310.90 Q145.5,313.50 150.8,310.90 " fill="none" stroke="#bdbdbd" stroke-width="1.1" stroke-linejoin="round" stroke-linecap="round" />
<path d="M196.1,284.1 L323.9,284.1 Q328.2,285.5 328.2,291 L328.2,301.5 Q328.2,304.5 324,306 L286.4,320.7 L278.2,308.4 L241.8,308.4 L233.6,320.7 L196.5,305 Q192.6,303.5 192.6,300.5 L192.6,290.5 Q193,285.5 196.1,284.1 Z" fill="#fff" stroke="#231f20" stroke-width="1" stroke-linejoin="round" stroke-linecap="round" />
<path d="M196.7,284.4 L241.8,308.4 M278.2,308.4 L323.9,284.4" fill="none" stroke="#231f20" stroke-width="1" stroke-linejoin="round" stroke-linecap="round" />
<rect x="-7.0" y="-2.75" width="14" height="5.5" rx="2.75" transform="translate(204 298.5) rotate(28)" fill="#fff" stroke="#231f20" stroke-width="1"/>
<rect x="-5.5" y="-2.25" width="11" height="4.5" rx="2.25" transform="translate(228 309.8) rotate(28)" fill="#fff" stroke="#231f20" stroke-width="1"/>
<rect x="-7.0" y="-2.75" width="14" height="5.5" rx="2.75" transform="translate(316.2 298.5) rotate(-28)" fill="#fff" stroke="#231f20" stroke-width="1"/>
<rect x="-5.5" y="-2.25" width="11" height="4.5" rx="2.25" transform="translate(292.2 309.8) rotate(-28)" fill="#fff" stroke="#231f20" stroke-width="1"/>
<path d="M258,294.5 L263,294.5 L262.5,300.2 L258.5,300.2 Z" fill="none" stroke="#231f20" stroke-width="0.9" stroke-linejoin="round" stroke-linecap="round" />
<path d="M374.7,268.2 A17.4,7 0 0 1 409.5,268.2 L393.6,346.2 A10.1,4 0 0 1 373.4,346.2 Z" fill="#fff" stroke="#231f20" stroke-width="1.8" stroke-linejoin="round" stroke-linecap="round" />
<path d="M374.7,268.2 A17.4,7 0 0 0 409.5,268.2" fill="none" stroke="#231f20" stroke-width="1.8" stroke-linejoin="round" stroke-linecap="round" />
<rect x="389.3" y="252.3" width="6.2" height="16.5" rx="3" fill="#111"/>
<path d="M433.3,287.8 L448.6,274.3 L484.1,275 L500,288.4 L500,307.3 L484.1,324.5 L445.6,324.5 L433.3,307.3 Z" fill="#fff" stroke="#231f20" stroke-width="1" stroke-linejoin="round" stroke-linecap="round" />
<path d="M433.3,287.8 L445.6,303.1 L484.7,301.8 L500,288.4 M445.6,303.1 L445.6,324.5 M484.7,301.8 L484.1,324.5" fill="none" stroke="#231f20" stroke-width="1" stroke-linejoin="round" stroke-linecap="round" />
<path d="M449.3,287.5 A17.1,9.5 0 0 1 483.5,287.5 A17.1,9.5 0 0 1 449.3,287.5 Z" fill="none" stroke="#231f20" stroke-width="1" stroke-linejoin="round" stroke-linecap="round" />
<path d="M450.5,290 Q466.4,278.5 482.5,290 M452,293 Q466.4,282.5 481,293 M455,295.3 Q466.4,287 478,295.3" fill="none" stroke="#231f20" stroke-width="0.9" stroke-linejoin="round" stroke-linecap="round" />
<path d="M541.5,282.3 L555.8,273.8 L581.5,282.3 L581.5,364.7 L563.5,375.6 L541.5,364.7 Z" fill="#fff" stroke="#4a4436" stroke-width="1" stroke-linejoin="round" stroke-linecap="round" />
<path d="M541.5,282.3 L563.5,293.2 L581.5,282.3 M563.5,293.2 L563.5,375.6" fill="none" stroke="#4a4436" stroke-width="1" stroke-linejoin="round" stroke-linecap="round" />
<path d="M555.8,254 A5.6,2 0 0 1 567,254 L567,282 A5.6,2.2 0 0 1 555.8,282 Z" fill="#6b6b6b" stroke="#333" stroke-width="1" stroke-linejoin="round" stroke-linecap="round" />
<path d="M558,256 L558,281 M560.5,256.5 L560.5,282 M563,256.5 L563,282 M565.3,256 L565.3,281" fill="none" stroke="#9a9a9a" stroke-width="0.6" stroke-linejoin="round" stroke-linecap="round" />
<path d="M555.8,254 A5.6,2 0 0 0 567,254" fill="#eee" stroke="#ccc" stroke-width="0.8" stroke-linejoin="round" stroke-linecap="round" />
<path d="M554.5,282.5 A6.5,2.2 0 0 0 568.5,282.5" fill="none" stroke="#222" stroke-width="1.5" stroke-linejoin="round" stroke-linecap="round" /></g>
</svg></body></html>
